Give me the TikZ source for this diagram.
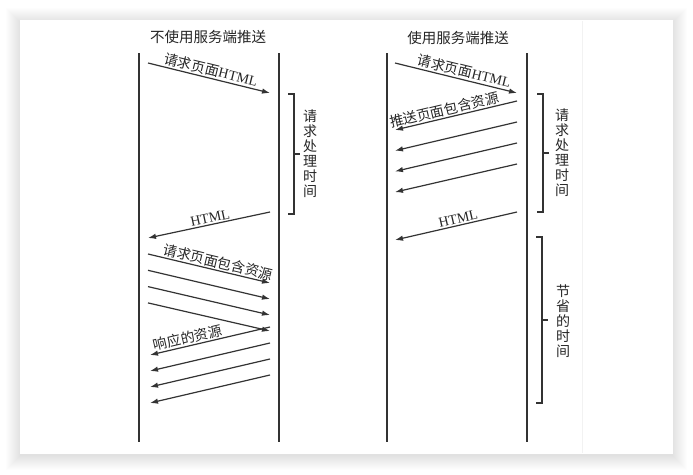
\documentclass[tikz,border=0pt]{standalone}
\usepackage{fontspec}
\setmainfont{Liberation Serif}
\newfontfamily\cjk{Noto Sans CJK SC}
\usetikzlibrary{arrows.meta}

\begin{document}
\begin{tikzpicture}[x=1pt,y=-1pt]
\tikzstyle{life} = [black!80, line width=1.4pt];
\tikzstyle{msg} = [-{Latex[length=8pt,width=5.5pt]}, black!80, line width=1.2pt];
\tikzstyle{lbl} = [font=\fontsize{14}{14}\selectfont, sloped, above, inner sep=1.5pt, text=black!85];
\tikzstyle{ttl} = [font=\cjk\fontsize{14.5}{15}\selectfont, text=black!85];
\tikzstyle{brace} = [black!80, line width=1.1pt];
\tikzstyle{vlbl} = [font=\cjk\fontsize{14}{15}\selectfont, align=center, inner sep=0pt, text=black!85];

% card and shadow
\useasboundingbox (0,0) rectangle (693,474);
\foreach \r in {0,...,14}
    \fill[black, opacity=0.008] (20-\r, 22-\r) rectangle (673+\r, 456+\r);
\fill[white] (20,20) rectangle (673,454);
\draw[black!5, line width=0.6pt] (582,21) -- (582,453);

% titles
\node[ttl] (titleA) at (208,37) {不使用服务端推送};
\node[ttl] (titleB) at (458,38) {使用服务端推送};

% lifelines
\coordinate (A1top) at (139,53);
\coordinate (A1bot) at (139,442);
\coordinate (A2top) at (279,53);
\coordinate (A2bot) at (279,442);
\coordinate (B1top) at (387,53);
\coordinate (B1bot) at (387,442);
\coordinate (B2top) at (527,53);
\coordinate (B2bot) at (527,442);
\draw[life] (A1top) -- (A1bot);
\draw[life] (A2top) -- (A2bot);
\draw[life] (B1top) -- (B1bot);
\draw[life] (B2top) -- (B2bot);

% without push
\coordinate (aHs) at (148,63);
\coordinate (aHe) at (270,93);
\draw[msg] (aHs) -- node[lbl, pos=0.5] {{\cjk 请求页面}HTML} (aHe);
\coordinate (aRs) at (270,212);
\coordinate (aRe) at (148,238);
\draw[msg] (aRs) -- node[lbl, pos=0.48] {HTML} (aRe);

\foreach \i in {0,...,3} {
    \coordinate (reqs\i) at (148, 254+16.3*\i);
    \coordinate (reqe\i) at (270, 283+16*\i);
    \draw[msg] (reqs\i) -- (reqe\i);
}
\path (reqs0) -- node[lbl, pos=0.56] {\cjk 请求页面包含资源} (reqe0);

\foreach \i in {0,...,3} {
    \coordinate (ress\i) at (270, 327+16*\i);
    \coordinate (rese\i) at (150, 355+16*\i);
    \draw[msg] (ress\i) -- (rese\i);
}
\path (ress0) -- node[lbl, pos=0.67] {\cjk 响应的资源} (rese0);

\draw[brace] (288,94) -- (294,94) -- (294,214) -- (288,214);
\draw[brace] (294,154) -- (300,154);
\node[vlbl] (timeA) at (310,154) {请\\求\\处\\理\\时\\间};

% with push
\coordinate (bHs) at (395,63);
\coordinate (bHe) at (517,93);
\draw[msg] (bHs) -- node[lbl, pos=0.55] {{\cjk 请求页面}HTML} (bHe);

\foreach \i in {0,...,3} {
    \coordinate (pshs\i) at (517, 101+21*\i);
    \coordinate (pshe\i) at (395, 130+20.7*\i);
    \draw[msg] (pshs\i) -- (pshe\i);
}
\path (pshs0) -- node[lbl, pos=0.58] {\cjk 推送页面包含资源} (pshe0);

\coordinate (bRs) at (517,212);
\coordinate (bRe) at (395,240);
\draw[msg] (bRs) -- node[lbl, pos=0.47] {HTML} (bRe);

\draw[brace] (537,94) -- (543,94) -- (543,212) -- (537,212);
\draw[brace] (543,153) -- (549,153);
\node[vlbl] (timeB) at (562,153) {请\\求\\处\\理\\时\\间};

\draw[brace] (536,237) -- (542,237) -- (542,403) -- (536,403);
\draw[brace] (542,320) -- (548,320);
\node[vlbl] (saved) at (563,321) {节\\省\\的\\时\\间};
\end{tikzpicture}
\end{document}
